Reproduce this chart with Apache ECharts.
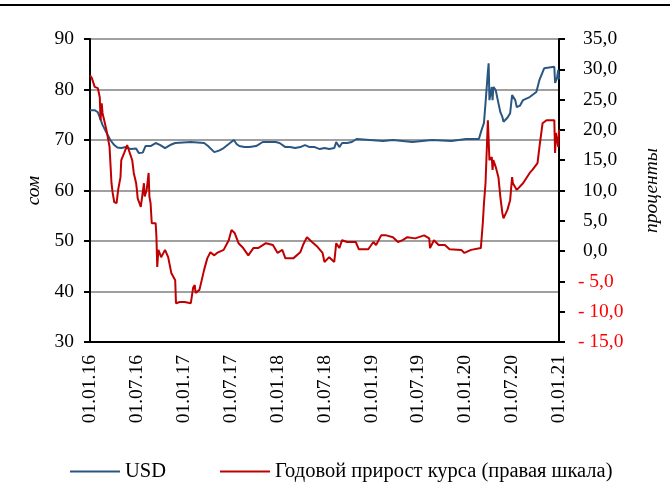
<!DOCTYPE html>
<html><head><meta charset="utf-8">
<script src="https://cdn.jsdelivr.net/npm/echarts@6/dist/echarts.min.js"></script>
<style>html,body{margin:0;padding:0;background:#fff}#c{width:670px;height:499px}</style>
</head><body><div id="c"></div>
<script>
// x positions are months since 01.01.2016
const usdMonths = [0,0.6,1.0,1.25,1.6,2.1,2.6,3.1,3.5,4.0,4.6,5.25,5.9,6.25,6.75,7.1,7.75,8.4,9.0,9.6,10.25,10.9,11.9,12.9,13.75,14.6,15.1,15.9,16.5,17.1,17.75,18.4,18.75,19.1,19.75,20.4,21.25,22.1,23.1,23.75,24.25,25,25.6,26.25,26.9,27.5,28.1,28.75,29.4,30,30.6,31.25,31.5,31.9,32.25,32.9,33.5,34.1,37.5,38.75,41.25,43.75,46.25,48.1,49.75,50.1,50.4,50.6,50.9,51.0,51.1,51.4,51.5,51.6,51.9,52.25,52.5,52.75,52.9,53.4,53.75,54.0,54.4,54.6,55,55.4,56.25,57.1,57.5,58.1,59.4,59.5,59.75,59.9,60];
const usdValues = [75.9,75.9,75.5,74.5,73,71.5,70,69,68.5,68.4,68.6,68.2,68.3,67.4,67.5,68.8,68.8,69.4,69.0,68.4,69.0,69.4,69.5,69.6,69.5,69.4,68.8,67.6,67.9,68.4,69.2,70,69.2,68.8,68.6,68.6,68.8,69.6,69.6,69.6,69.4,68.6,68.6,68.4,68.6,69.0,68.6,68.6,68.2,68.4,68.2,68.4,69.6,68.6,69.4,69.4,69.6,70.2,69.8,70.0,69.6,70.0,69.8,70.2,70.2,72.0,73.4,77.3,83.5,85.2,77.9,80.5,77.9,80.5,79.9,77.3,75.5,74.6,73.6,74.4,75.3,78.9,77.9,76.5,76.8,77.9,78.5,79.5,81.9,84.2,84.5,81.3,82.3,83.9,82.0];

const growthMonths = [0,0.25,0.6,1.0,1.25,1.35,1.5,1.6,2.1,2.5,2.75,2.9,3.1,3.4,3.6,3.9,4.0,4.4,4.75,5.0,5.4,5.6,5.9,6.0,6.1,6.5,6.6,6.9,7.0,7.25,7.5,7.6,7.75,7.9,8.4,8.5,8.6,8.75,9.1,9.6,10.0,10.4,10.9,11.0,11.5,12.1,12.9,13.2,13.4,13.5,14.0,14.6,15.0,15.4,15.9,16.25,17.1,17.75,18.1,18.5,19.0,19.6,20.25,20.9,21.5,22.5,23.4,24.0,24.6,25.0,26.0,26.25,26.9,27.25,27.75,28.4,29.1,29.75,30.0,30.6,31.25,31.5,31.9,32.25,32.9,34.0,34.4,35.6,36.25,36.6,37.25,37.9,38.75,39.4,40.0,40.6,41.6,42.75,43.4,43.5,44.0,44.6,45.4,46.0,47.5,47.9,48.75,50.0,50.25,50.4,50.6,50.9,51.0,51.1,51.4,51.5,51.6,51.9,52.25,52.5,52.75,52.9,53.4,53.75,54.0,54.1,54.6,55.4,56.25,56.6,57.25,57.5,57.9,58.4,59.4,59.5,59.6,59.9,60];
const growthValues = [29.0,28.5,27.1,26.9,25.4,21.6,24.4,22.8,20,17.2,11.2,9.6,8.1,7.9,10.1,12.2,15,16.3,17.5,17.2,15,12.9,11.2,10.1,8.7,7.3,7.1,11.2,9.0,10.1,12.9,9,7.9,4.6,4.6,2.3,-2.6,0.2,-1,0.2,-1,-3.6,-4.8,-8.6,-8.4,-8.4,-8.6,-6.0,-5.6,-6.9,-6.4,-3.1,-1.2,-0.2,-0.7,-0.3,0.2,1.8,3.5,3.0,1.3,0.5,-0.7,0.5,0.5,1.3,1.0,-0.3,0.2,-1.2,-1.2,-1.3,-0.2,1.0,2.3,1.5,0.7,-0.3,-1.8,-1.0,-1.8,1.3,0.5,1.8,1.5,1.5,0.3,0.3,1.5,1.0,2.6,2.6,2.3,1.5,1.8,2.3,2.1,2.6,2.1,0.5,1.8,1.0,1.0,0.3,0.2,-0.3,0.2,0.5,4.6,7.9,11.2,21.6,21.6,15,15.5,13.4,15,13.9,12.2,8.9,6.3,5.4,6.8,8.4,12.2,11.2,10.1,11.2,12.9,13.4,14.5,17.2,21.1,21.6,21.6,16.2,19.5,17.2,20];

const leftTicks = [30,40,50,60,70,80,90];
const rightTicks = [-15,-10,-5,0,5,10,15,20,25,30,35];
const seriesNames = ['USD','Годовой прирост курса (правая шкала)'];

function pair(xs, ys){ return xs.map((x,i)=>[x, ys[i]]); }
function dateLabel(m){
  const y = 16 + Math.floor(m/12);
  const mm = (m % 12) === 0 ? '01' : '07';
  return '01.' + mm + '.' + y;
}
const FONT = '"Liberation Serif","Times New Roman",serif';
const FS = 19.5;
const chart = echarts.init(document.getElementById('c'), null, {renderer:'canvas'});
chart.setOption({
  animation:false,
  textStyle:{fontFamily:FONT},
  graphic:[{type:'rect', shape:{x:0,y:4,width:670,height:2}, style:{fill:'#000'}}],
  grid:{left:90,right:99,top:39,bottom:157},
  legend:{
    left:65, top:456, itemWidth:50, itemHeight:2, itemGap:54, icon:'rect',
    textStyle:{fontFamily:FONT,fontSize:20.5,color:'#000'},
    data:seriesNames
  },
  xAxis:{
    type:'value', min:0, max:60, interval:6,
    axisLine:{onZero:false,lineStyle:{color:'#000',width:2}},
    axisTick:{show:false},
    splitLine:{show:false},
    axisLabel:{rotate:90, margin:13, fontFamily:FONT, fontSize:FS, color:'#000', formatter:dateLabel}
  },
  yAxis:[{
    type:'value', min:leftTicks[0], max:leftTicks[leftTicks.length-1], interval:10, position:'left',
    name:'сом', nameLocation:'middle', nameGap:28,
    nameTextStyle:{fontFamily:FONT,fontSize:FS,fontStyle:'italic',color:'#000'},
    axisLine:{show:true,lineStyle:{color:'#000',width:2}},
    axisTick:{show:true,length:6,lineStyle:{color:'#000',width:2}},
    splitLine:{lineStyle:{color:'#a0a0a0',width:2}},
    axisLabel:{margin:16,fontFamily:FONT,fontSize:FS,color:'#000'}
  },{
    type:'value', min:rightTicks[0], max:rightTicks[rightTicks.length-1], interval:5, position:'right',
    name:'проценты', nameLocation:'middle', nameGap:83,
    nameTextStyle:{fontFamily:FONT,fontSize:FS,fontStyle:'italic',color:'#000'},
    axisLine:{show:true,lineStyle:{color:'#000',width:2}},
    axisTick:{show:true,length:6,lineStyle:{color:'#000',width:2}},
    splitLine:{show:false},
    axisLabel:{margin:19,fontFamily:FONT,fontSize:FS,
      formatter:function(v){
        const s = Math.abs(v).toFixed(1).replace('.',',');
        return v < 0 ? '{n|- ' + s + '}' : '{p|' + s + '}';
      },
      rich:{
        n:{color:'#ff0000',fontFamily:FONT,fontSize:FS},
        p:{color:'#000',fontFamily:FONT,fontSize:FS,padding:[0,0,0,5]}
      }
    }
  }],
  series:[{
    name:seriesNames[0], type:'line', yAxisIndex:0, symbol:'none',
    lineStyle:{color:'#2a5782',width:2}, itemStyle:{color:'#2a5782'},
    data:pair(usdMonths, usdValues)
  },{
    name:seriesNames[1], type:'line', yAxisIndex:1, symbol:'none',
    lineStyle:{color:'#c00000',width:2}, itemStyle:{color:'#c00000'},
    data:pair(growthMonths, growthValues)
  }]
});
</script></body></html>
